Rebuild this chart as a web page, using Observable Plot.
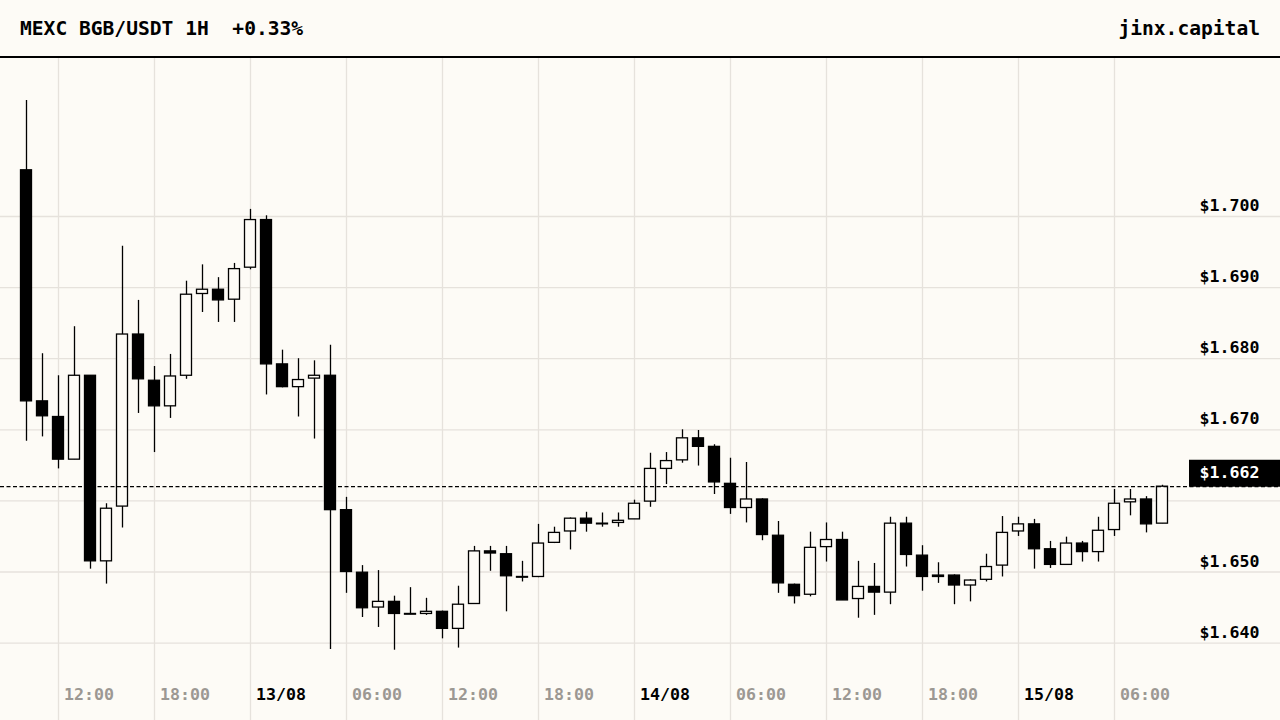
<!DOCTYPE html>
<html><head><meta charset="utf-8">
<script src="https://cdn.jsdelivr.net/npm/d3@7"></script>
<script src="https://cdn.jsdelivr.net/npm/@observablehq/plot@0.6"></script>
<style>
html,body{margin:0;padding:0;background:#fdfbf6;}
body{width:1280px;height:720px;overflow:hidden;font-family:"DejaVu Sans Mono",monospace;}
#header{box-sizing:border-box;height:58px;border-bottom:2px solid #000;display:flex;justify-content:space-between;align-items:center;padding:0 20px;font-weight:bold;font-size:19.6px;white-space:pre;color:#000;}
#chart svg{display:block;}
</style></head><body>
<div id="header"><span id="title"></span><span id="brand"></span></div>
<div id="chart"></div>
<script>
const titleText = "MEXC BGB/USDT 1H  +0.33%";
const brandText = "jinx.capital";

const times = [
"2025-08-12T10:00Z","2025-08-12T11:00Z","2025-08-12T12:00Z","2025-08-12T13:00Z","2025-08-12T14:00Z","2025-08-12T15:00Z","2025-08-12T16:00Z","2025-08-12T17:00Z","2025-08-12T18:00Z","2025-08-12T19:00Z","2025-08-12T20:00Z","2025-08-12T21:00Z","2025-08-12T22:00Z","2025-08-12T23:00Z",
"2025-08-13T00:00Z","2025-08-13T01:00Z","2025-08-13T02:00Z","2025-08-13T03:00Z","2025-08-13T04:00Z","2025-08-13T05:00Z","2025-08-13T06:00Z","2025-08-13T07:00Z","2025-08-13T08:00Z","2025-08-13T09:00Z","2025-08-13T10:00Z","2025-08-13T11:00Z","2025-08-13T12:00Z","2025-08-13T13:00Z","2025-08-13T14:00Z","2025-08-13T15:00Z","2025-08-13T16:00Z","2025-08-13T17:00Z","2025-08-13T18:00Z","2025-08-13T19:00Z","2025-08-13T20:00Z","2025-08-13T21:00Z","2025-08-13T22:00Z","2025-08-13T23:00Z",
"2025-08-14T00:00Z","2025-08-14T01:00Z","2025-08-14T02:00Z","2025-08-14T03:00Z","2025-08-14T04:00Z","2025-08-14T05:00Z","2025-08-14T06:00Z","2025-08-14T07:00Z","2025-08-14T08:00Z","2025-08-14T09:00Z","2025-08-14T10:00Z","2025-08-14T11:00Z","2025-08-14T12:00Z","2025-08-14T13:00Z","2025-08-14T14:00Z","2025-08-14T15:00Z","2025-08-14T16:00Z","2025-08-14T17:00Z","2025-08-14T18:00Z","2025-08-14T19:00Z","2025-08-14T20:00Z","2025-08-14T21:00Z","2025-08-14T22:00Z","2025-08-14T23:00Z",
"2025-08-15T00:00Z","2025-08-15T01:00Z","2025-08-15T02:00Z","2025-08-15T03:00Z","2025-08-15T04:00Z","2025-08-15T05:00Z","2025-08-15T06:00Z","2025-08-15T07:00Z","2025-08-15T08:00Z","2025-08-15T09:00Z"
];
const open = [
1.7065,1.6740,1.6718,1.6658,1.6776,1.6515,1.6592,1.6834,1.6769,1.6733,1.6776,1.6891,1.6897,1.6883,
1.6928,1.6995,1.6792,1.6760,1.6772,1.6776,1.6587,1.6499,1.6450,1.6458,1.6441,1.6441,1.6444,1.6420,1.6455,1.6529,1.6525,1.6493,1.6493,1.6541,1.6557,1.6575,1.6568,1.6569,
1.6574,1.6599,1.6645,1.6657,1.6688,1.6676,1.6624,1.6590,1.6602,1.6551,1.6482,1.6468,1.6535,1.6545,1.6462,1.6479,1.6471,1.6568,1.6523,1.6495,1.6495,1.6481,1.6489,1.6509,
1.6557,1.6567,1.6532,1.6510,1.6540,1.6528,1.6559,1.6598,1.6602,1.6568
];
const high = [
1.7163,1.6807,1.6776,1.6845,1.6776,1.6596,1.6958,1.6882,1.6789,1.6806,1.6909,1.6932,1.6914,1.6934,
1.7010,1.7001,1.6812,1.6800,1.6797,1.6819,1.6605,1.6509,1.6502,1.6466,1.6478,1.6463,1.6445,1.6480,1.6536,1.6536,1.6536,1.6515,1.6567,1.6563,1.6576,1.6584,1.6583,1.6583,
1.6601,1.6667,1.6668,1.6700,1.6699,1.6679,1.6660,1.6654,1.6603,1.6571,1.6483,1.6556,1.6569,1.6556,1.6515,1.6512,1.6577,1.6577,1.6537,1.6513,1.6496,1.6489,1.6525,1.6578,
1.6577,1.6574,1.6543,1.6549,1.6543,1.6577,1.6616,1.6616,1.6606,1.6622
];
const low = [
1.6684,1.6690,1.6645,1.6658,1.6504,1.6483,1.6562,1.6723,1.6668,1.6716,1.6771,1.6865,1.6851,1.6851,
1.6925,1.6749,1.6759,1.6718,1.6687,1.6391,1.6470,1.6436,1.6422,1.6390,1.6440,1.6439,1.6406,1.6393,1.6455,1.6501,1.6444,1.6486,1.6492,1.6540,1.6531,1.6556,1.6563,1.6563,
1.6574,1.6591,1.6623,1.6653,1.6649,1.6609,1.6581,1.6569,1.6544,1.6470,1.6455,1.6465,1.6514,1.6460,1.6435,1.6439,1.6454,1.6507,1.6473,1.6484,1.6454,1.6458,1.6486,1.6493,
1.6550,1.6504,1.6505,1.6510,1.6514,1.6514,1.6550,1.6579,1.6555,1.6568
];
const close = [
1.6740,1.6719,1.6658,1.6776,1.6515,1.6589,1.6834,1.6771,1.6733,1.6775,1.6890,1.6897,1.6882,1.6926,
1.6995,1.6792,1.6760,1.6770,1.6776,1.6587,1.6500,1.6449,1.6458,1.6441,1.6440,1.6444,1.6420,1.6454,1.6529,1.6526,1.6494,1.6492,1.6540,1.6555,1.6575,1.6568,1.6567,1.6572,
1.6596,1.6645,1.6656,1.6688,1.6676,1.6626,1.6590,1.6602,1.6552,1.6484,1.6466,1.6534,1.6545,1.6460,1.6479,1.6471,1.6568,1.6524,1.6493,1.6493,1.6481,1.6488,1.6507,1.6555,
1.6567,1.6532,1.6510,1.6540,1.6528,1.6558,1.6596,1.6602,1.6567,1.6620
];

const priceTicks = [1.640,1.650,1.660,1.670,1.680,1.690,1.700];
const priceLabelTicks = [1.640,1.650,1.670,1.680,1.690,1.700];
const timeTicks = ["2025-08-12T12:00Z","2025-08-12T18:00Z","2025-08-13T00:00Z","2025-08-13T06:00Z","2025-08-13T12:00Z","2025-08-13T18:00Z","2025-08-14T00:00Z","2025-08-14T06:00Z","2025-08-14T12:00Z","2025-08-14T18:00Z","2025-08-15T00:00Z","2025-08-15T06:00Z"];
const timeLabels = ["12:00","18:00","13/08","06:00","12:00","18:00","14/08","06:00","12:00","18:00","15/08","06:00"];
const lastPrice = 1.662;
const lastLabel = "$1.662";

document.getElementById("title").textContent = titleText;
document.getElementById("brand").textContent = brandText;

const BG = "#fdfbf6", GRID = "#e6e2dc", GRAY = "#9c9893";
const FONT = "'DejaVu Sans Mono', monospace";
const HOUR = 3600000, PX = HOUR / 16; // 16 px per hour
const candles = times.map((t, i) => ({t: new Date(t), open: open[i], high: high[i], low: low[i], close: close[i]}));
const tTicks = timeTicks.map((t, i) => ({t: new Date(t), label: timeLabels[i], day: timeLabels[i].includes("/")}));
const xStart = new Date(+new Date("2025-08-12T12:00Z") - 58 * PX);
const xEnd = new Date(+xStart + 1280 * PX);

const chart = Plot.plot({
  width: 1280, height: 662, margin: 0,
  style: {background: "transparent", fontFamily: FONT, overflow: "visible"},
  x: {type: "utc", domain: [xStart, xEnd], axis: null},
  y: {domain: [1.629114, 1.722222], axis: null},
  marks: [
    Plot.ruleY(priceTicks, {stroke: GRID, strokeWidth: 1.3}),
    Plot.ruleX(tTicks, {x: "t", stroke: GRID, strokeWidth: 1.3}),
    Plot.ruleX(candles, {x: "t", y1: "low", y2: "high", stroke: "#000", strokeWidth: 1.3}),
    Plot.rect(candles, {
      x1: d => new Date(+d.t - 5.5 * PX), x2: d => new Date(+d.t + 5.5 * PX),
      y1: "open", y2: "close",
      fill: d => d.close < d.open ? "#000" : BG, stroke: "#000", strokeWidth: 1.3
    }),
    Plot.ruleY([lastPrice], {stroke: "#000", strokeWidth: 1.3, strokeDasharray: "4,2.5"}),
    Plot.ruleY([lastPrice], {x1: new Date(+xEnd - 91 * PX), x2: xEnd, stroke: "#000", strokeWidth: 27, dy: -13.5}),
    Plot.text([lastPrice], {y: d => d, text: () => lastLabel, frameAnchor: "right", textAnchor: "end", lineAnchor: "bottom", dx: -21, dy: -8.5, fill: "#fff", fontWeight: "bold", fontSize: 16.6}),
    Plot.text(priceLabelTicks, {y: d => d, text: d => "$" + d.toFixed(3), frameAnchor: "right", textAnchor: "end", lineAnchor: "bottom", dx: -21, dy: -5.5, fill: "#000", fontWeight: "bold", fontSize: 16.6}),
    Plot.text(tTicks, {x: "t", text: "label", frameAnchor: "bottom", textAnchor: "start", lineAnchor: "bottom", dx: 5.5, dy: -20.5, fill: d => d.day ? "#000" : GRAY, fontWeight: "bold", fontSize: 16.6})
  ]
});
document.getElementById("chart").appendChild(chart);
</script>
</body></html>
